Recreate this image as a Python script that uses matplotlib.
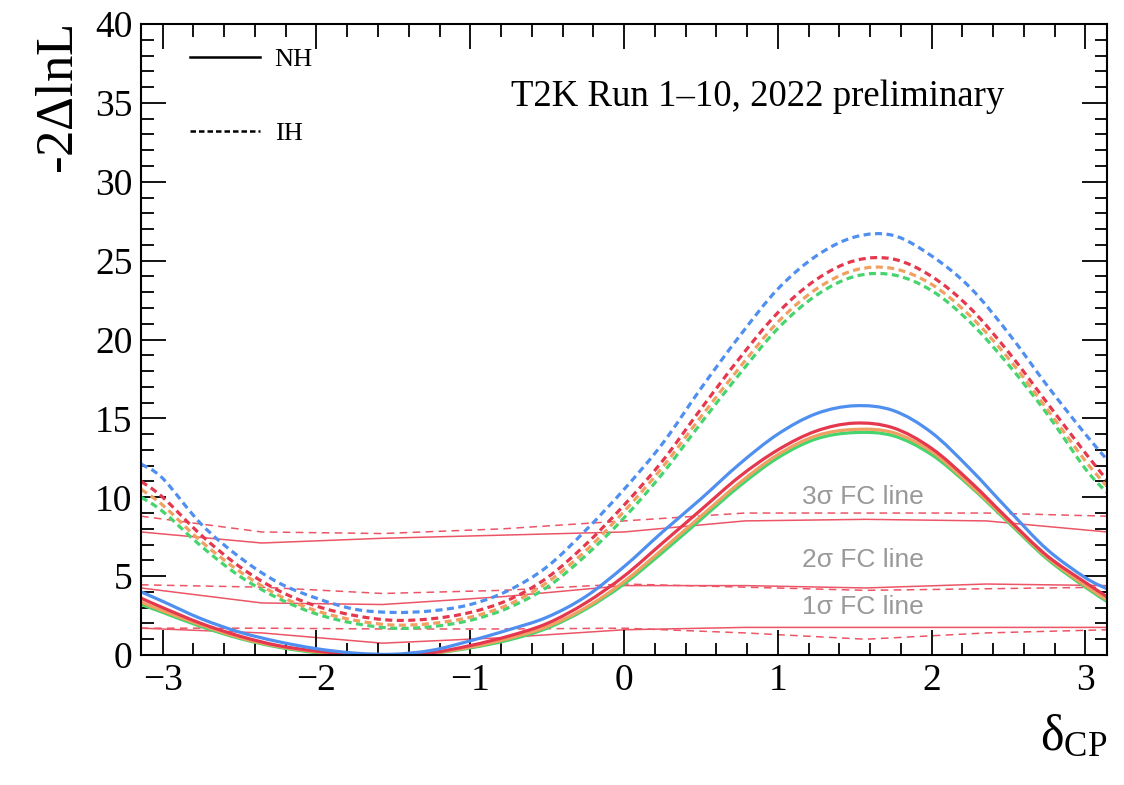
import numpy as np
import matplotlib.pyplot as plt
from matplotlib.lines import Line2D
from matplotlib.path import Path
from matplotlib.patches import PathPatch
from matplotlib.ticker import MultipleLocator

# delta_CP scan points
dcp = [-3.14, -3.0, -2.75, -2.5, -2.25, -2.0, -1.75, -1.5, -1.25, -1.0, -0.75, -0.5, -0.25,
       0.0, 0.25, 0.5, 0.75, 1.0, 1.25, 1.5, 1.75, 2.0, 2.25, 2.5, 2.75, 3.0, 3.14]

# normal hierarchy
nh_blue = [4.0, 3.4, 2.3, 1.45, 0.85, 0.4, 0.12, 0.05, 0.3, 0.9, 1.6, 2.4, 3.7,
           5.6, 7.8, 9.9, 12.1, 14.0, 15.3, 15.8, 15.5, 14.1, 11.8, 9.2, 6.7, 4.9, 4.2]
nh_red = [3.6, 3.0, 2.0, 1.2, 0.6, 0.25, 0.05, 0.0, 0.15, 0.6, 1.2, 2.0, 3.3,
          5.0, 7.1, 9.2, 11.3, 13.0, 14.2, 14.7, 14.4, 13.1, 11.0, 8.6, 6.3, 4.6, 3.7]
nh_orange = [3.35, 2.8, 1.9, 1.1, 0.55, 0.2, 0.02, 0.0, 0.12, 0.5, 1.05, 1.8, 3.0,
             4.65, 6.7, 8.8, 10.9, 12.7, 13.9, 14.3, 14.1, 12.9, 10.8, 8.5, 6.2, 4.4, 3.5]
nh_green = [3.2, 2.7, 1.8, 1.05, 0.5, 0.15, 0.0, 0.0, 0.1, 0.45, 0.95, 1.7, 2.9,
            4.5, 6.5, 8.6, 10.7, 12.5, 13.7, 14.1, 13.9, 12.7, 10.7, 8.4, 6.1, 4.3, 3.4]

# inverted hierarchy
ih_blue = [12.1, 11.2, 8.3, 6.2, 4.6, 3.6, 2.9, 2.7, 2.8, 3.2, 4.1, 5.6, 7.9,
           10.5, 13.4, 16.9, 20.2, 23.2, 25.3, 26.5, 26.6, 25.3, 23.3, 20.4, 17.1, 14.0, 12.4]
ih_red = [11.0, 10.0, 7.6, 5.6, 4.1, 3.1, 2.5, 2.2, 2.3, 2.7, 3.5, 4.9, 7.0,
          9.5, 12.3, 15.6, 18.8, 21.7, 23.8, 25.0, 25.1, 24.0, 22.0, 19.2, 16.0, 12.8, 11.1]
ih_orange = [10.5, 9.5, 7.2, 5.3, 3.8, 2.8, 2.2, 1.9, 2.0, 2.4, 3.2, 4.6, 6.6,
             9.1, 11.9, 15.1, 18.2, 21.1, 23.2, 24.4, 24.5, 23.5, 21.5, 18.8, 15.6, 12.3, 10.7]
ih_green = [10.0, 9.1, 6.9, 5.0, 3.6, 2.6, 2.0, 1.7, 1.8, 2.2, 3.0, 4.3, 6.3,
            8.7, 11.5, 14.7, 17.8, 20.7, 22.8, 24.0, 24.1, 23.1, 21.1, 18.4, 15.3, 11.8, 10.3]

# Feldman-Cousins critical values
fc_x = [-3.1416, -2.3562, -1.5708, -0.7854, 0.0, 0.7854, 1.5708, 2.3562, 3.1416]
fc3_nh = [7.8, 7.1, 7.4, 7.6, 7.8, 8.5, 8.6, 8.5, 7.8]
fc3_ih = [8.8, 7.8, 7.7, 8.0, 8.5, 9.0, 9.0, 9.0, 8.8]
fc2_nh = [4.25, 3.3, 3.2, 3.7, 4.4, 4.4, 4.25, 4.5, 4.4]
fc2_ih = [4.45, 4.3, 3.9, 4.1, 4.5, 4.3, 4.1, 4.2, 4.3]
fc1_nh = [1.7, 1.4, 0.75, 1.1, 1.6, 1.75, 1.75, 1.75, 1.75]
fc1_ih = [1.7, 1.7, 1.65, 1.65, 1.7, 1.4, 1.0, 1.4, 1.6]

fc_labels = ['3σ FC line', '2σ FC line', '1σ FC line']
fc_label_y = [10.0, 6.0, 3.05]

c_blue = '#4f8ff0'
c_red = '#e5384e'
c_orange = '#f0a060'
c_green = '#45d46e'
c_fc = '#ec5566'

plt.rcParams['font.family'] = ['Liberation Serif', 'DejaVu Serif']
plt.rcParams['mathtext.fontset'] = 'custom'
plt.rcParams['mathtext.rm'] = 'Liberation Serif'
plt.rcParams['mathtext.it'] = 'Liberation Serif:italic'


def curve(x, y):
    # smooth cubic bezier through the scan points
    p = np.column_stack([x, y])
    verts = [p[0]]
    codes = [Path.MOVETO]
    n = len(p)
    for i in range(n - 1):
        p0 = p[max(i - 1, 0)]
        p3 = p[min(i + 2, n - 1)]
        verts += [p[i] + (p[i + 1] - p0) / 6, p[i + 1] - (p3 - p[i]) / 6, p[i + 1]]
        codes += [Path.CURVE4] * 3
    return Path(verts, codes)


fig = plt.figure(figsize=(11.24, 7.85), dpi=100)
ax = fig.add_axes([0.1254, 0.1656, 0.8596, 0.8038])

# FC lines
for nh, ih in [(fc3_nh, fc3_ih), (fc2_nh, fc2_ih), (fc1_nh, fc1_ih)]:
    ax.plot(fc_x, nh, color=c_fc, lw=1.1, zorder=1)
    ax.plot(fc_x, ih, color=c_fc, lw=1.1, dashes=(5, 3.5), zorder=1)

# chi2 curves
lw = 2.3
for y, c in [(nh_green, c_green), (nh_orange, c_orange), (nh_red, c_red), (nh_blue, c_blue)]:
    ax.add_patch(PathPatch(curve(dcp, y), fill=False, edgecolor=c, lw=lw, zorder=2))
for y, c in [(ih_green, c_green), (ih_orange, c_orange), (ih_red, c_red), (ih_blue, c_blue)]:
    ax.add_patch(PathPatch(curve(dcp, y), fill=False, edgecolor=c, lw=lw,
                           linestyle=(0, (2.2, 1.4)), zorder=2))

for lab, yy in zip(fc_labels, fc_label_y):
    ax.text(1.16, yy, lab, color='#999999', fontsize=19, va='center', ha='left',
            family=['Liberation Sans', 'DejaVu Sans'], zorder=3)

ax.text(0.894, 0.885, 'T2K Run 1\u201310, 2022 preliminary', transform=ax.transAxes,
        ha='right', va='center', fontsize=26.5)

handles = [Line2D([], [], color='black', lw=1.8),
           Line2D([], [], color='black', lw=1.8, dashes=(2.2, 1.2))]
ax.legend(handles, ['NH', 'IH'], loc='upper left', bbox_to_anchor=(0.051, 0.962),
          borderpad=0, borderaxespad=0, frameon=False, fontsize=19,
          handlelength=2.65, labelspacing=1.9, handletextpad=0.55)

ax.set_xlim(-np.pi, np.pi)
ax.set_ylim(0, 40)
ax.xaxis.set_major_locator(MultipleLocator(1))
ax.xaxis.set_minor_locator(MultipleLocator(0.2))
ax.yaxis.set_major_locator(MultipleLocator(5))
ax.yaxis.set_minor_locator(MultipleLocator(1))
ax.tick_params(which='both', direction='in', top=True, right=True, width=1.3, labelsize=27)
ax.tick_params(which='major', length=18)
ax.tick_params(which='minor', length=9)
ax.tick_params(axis='x', pad=6)
ax.tick_params(axis='y', pad=6)
ax.set_xticks(range(-3, 4))
ax.set_xticklabels(['\u22123', '\u22122', '\u22121', '0', '1', '2', '3'])
for s in ax.spines.values():
    s.set_linewidth(1.5)

ax.set_ylabel(r'-2$\Delta$lnL', fontsize=38, loc='top', labelpad=8)
ax.set_xlabel(r'δ$_{\rm CP}$', fontsize=36, loc='right', labelpad=12)

fig.savefig('out.png', dpi=100)
